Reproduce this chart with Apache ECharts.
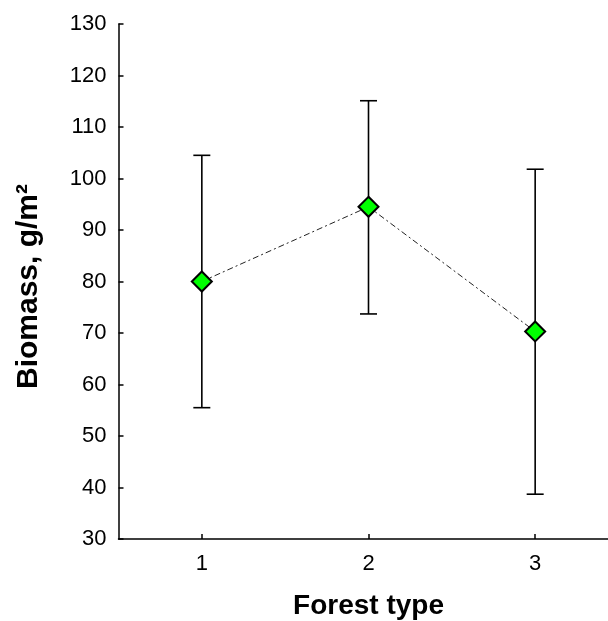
<!DOCTYPE html>
<html>
<head>
<meta charset="utf-8">
<script src="https://cdn.jsdelivr.net/npm/echarts@6/dist/echarts.min.js"></script>
<style>html,body{margin:0;padding:0;background:#fff;}#c{width:608px;height:621px;}</style>
</head>
<body>
<div id="c"></div>
<script>
const categories = ['1', '2', '3'];
const meanValues = [80, 94.5, 70.3];
const upperValues = [104.5, 115.1, 101.8];
const lowerValues = [55.5, 73.7, 38.7];
const yTicks = {min: 30, max: 130, interval: 10};
const xTitle = 'Forest type';
const yTitle = 'Biomass, g/m\u00B2';

const chart = echarts.init(document.getElementById('c'), null, {renderer: 'canvas'});
const font = '"Liberation Sans", Arial, sans-serif';
const errData = categories.map((c, i) => [i, lowerValues[i], upperValues[i]]);

chart.setOption({
  animation: false,
  backgroundColor: '#fff',
  grid: {left: 118.5, top: 24, width: 500, height: 515, containLabel: false, outerBoundsMode: 'none'},
  xAxis: {
    type: 'category',
    data: categories,
    boundaryGap: true,
    name: xTitle,
    nameLocation: 'middle',
    nameGap: 53,
    nameTextStyle: {fontFamily: font, fontSize: 28, fontWeight: 'bold', color: '#000'},
    axisLine: {show: true, lineStyle: {color: '#000', width: 1.5}},
    axisTick: {show: true, inside: true, length: 5, alignWithLabel: true, lineStyle: {color: '#000', width: 1.5}},
    axisLabel: {fontFamily: font, fontSize: 22, color: '#000', margin: 14},
    splitLine: {show: false}
  },
  yAxis: {
    type: 'value',
    min: yTicks.min, max: yTicks.max, interval: yTicks.interval,
    name: yTitle,
    nameLocation: 'middle',
    nameGap: 75,
    nameRotate: 90,
    nameTextStyle: {fontFamily: font, fontSize: 30, fontWeight: 'bold', color: '#000', padding: [0, 10, 0, 0]},
    axisLine: {show: true, lineStyle: {color: '#000', width: 1.5}},
    axisTick: {show: true, inside: true, length: 5, lineStyle: {color: '#000', width: 1.5}},
    axisLabel: {fontFamily: font, fontSize: 22, color: '#000', margin: 12},
    splitLine: {show: false}
  },
  series: [
    {
      type: 'custom',
      z: 1,
      data: errData,
      renderItem: function (params, api) {
        const x = api.value(0);
        const lo = api.coord([x, api.value(1)]);
        const hi = api.coord([x, api.value(2)]);
        const hw = 8.5;
        const st = {stroke: '#000', lineWidth: 1.6};
        return {
          type: 'group',
          children: [
            {type: 'line', shape: {x1: hi[0], y1: hi[1], x2: lo[0], y2: lo[1]}, style: st},
            {type: 'line', shape: {x1: hi[0] - hw, y1: hi[1], x2: hi[0] + hw, y2: hi[1]}, style: st},
            {type: 'line', shape: {x1: lo[0] - hw, y1: lo[1], x2: lo[0] + hw, y2: lo[1]}, style: st}
          ]
        };
      }
    },
    {
      type: 'line',
      z: 3,
      data: meanValues,
      symbol: 'diamond',
      symbolSize: 20,
      showAllSymbol: true,
      lineStyle: {color: '#222', width: 1, type: [6, 3, 2, 3]},
      itemStyle: {color: '#00ff00', borderColor: '#000', borderWidth: 2, opacity: 1}
    }
  ]
});
</script>
</body>
</html>
